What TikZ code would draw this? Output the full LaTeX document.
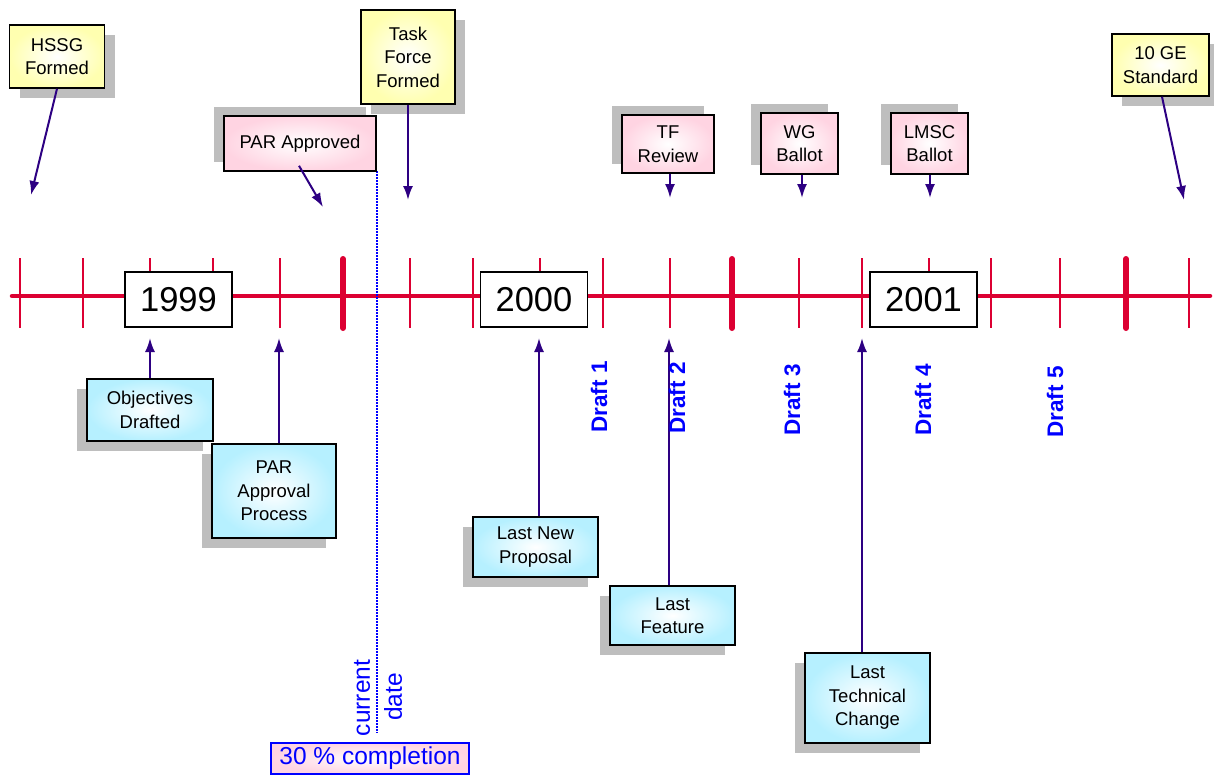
\documentclass[tikz,border=0pt]{standalone}
\usepackage{fontspec}
\setmainfont{Liberation Sans}
\usetikzlibrary{shadows,arrows.meta}
\definecolor{boxyellow}{RGB}{255,255,176}
\definecolor{boxpink}{RGB}{255,212,226}
\definecolor{boxcyan}{RGB}{182,240,255}
\definecolor{shadowgray}{RGB}{190,190,190}
\definecolor{tlred}{RGB}{220,0,50}
\definecolor{arrowc}{RGB}{45,0,130}
\definecolor{txtblue}{RGB}{0,0,255}
\begin{document}
\begin{tikzpicture}[x=1pt,y=-1pt,
  box/.style={draw=black, line width=1.5pt, inner sep=0pt, align=center,
    font=\fontsize{18.5}{23.5}\selectfont, shading=radial, inner color=white},
  ybox/.style={box, outer color=boxyellow,
    general shadow={fill=shadowgray, shadow xshift=10pt, shadow yshift=-10pt}},
  pbox/.style={box, outer color=boxpink,
    general shadow={fill=shadowgray, shadow xshift=-10pt, shadow yshift=9pt}},
  cbox/.style={box, outer color=boxcyan,
    general shadow={fill=shadowgray, shadow xshift=-10pt, shadow yshift=-10pt}},
  yearbox/.style={draw=black, fill=white, line width=1.5pt, inner sep=0pt,
    minimum width=107pt, minimum height=55pt, font=\fontsize{34.5}{38}\selectfont},
  arr/.style={draw=arrowc, line width=2pt, -{Latex[length=14pt,width=10pt]}},
  draftlbl/.style={rotate=90, text=txtblue, font=\bfseries\fontsize{22.5}{26}\selectfont},
  bluelbl/.style={rotate=90, text=txtblue, font=\fontsize{24.5}{28}\selectfont},
  thintick/.style={draw=tlred, line width=1.5pt},
  thicktick/.style={draw=tlred, line width=6pt, line cap=round}
]
\useasboundingbox (0,0) rectangle (1214,774);

% timeline
\foreach \x in {20,83,150,213,280,410,473,540,603,670,799,862,929,991,1060,1189}
  \draw[thintick] (\x,258) -- (\x,328);
\draw[draw=tlred, line width=4.5pt, line cap=round] (12,296) -- (1210,296);
\foreach \x in {343,732,1126}
  \draw[thicktick] (\x,259) -- (\x,328);

% year boxes
\node[yearbox] (y1999) at (178.5,299.5) {1999};
\node[yearbox] (y2000) at (534,299.5) {2000};
\node[yearbox] (y2001) at (923.5,299.5) {2001};

% current date line
\draw[txtblue, line width=1.5pt, dash pattern=on 1.5pt off 1.5pt] (377,171) -- (377,733);

% top boxes
\node[ybox, minimum width=95pt, minimum height=63pt] (hssg) at (57,56.5) {HSSG\\Formed};
\node[ybox, minimum width=94pt, minimum height=94pt] (tff) at (408,57) {Task\\Force\\Formed};
\node[pbox, minimum width=152pt, minimum height=55pt] (para) at (300,143.5) {PAR Approved};
\node[pbox, minimum width=92pt, minimum height=58pt] (tfr) at (668,144) {TF\\Review};
\node[pbox, minimum width=77pt, minimum height=61pt] (wgb) at (799.5,143.5) {WG\\Ballot};
\node[pbox, minimum width=77pt, minimum height=61pt] (lmsc) at (929.5,143.5) {LMSC\\Ballot};
\node[ybox, minimum width=97pt, minimum height=62pt] (ge) at (1160.5,65) {10 GE\\Standard};

% top arrow ends
\coordinate (e1) at (31,195);
\coordinate (e2) at (408,200);
\coordinate (e3) at (323,207);
\coordinate (e4) at (670,198);
\coordinate (e5) at (802,198);
\coordinate (e6) at (930,198);
\coordinate (e7) at (1184,200);
\draw[arr] (hssg.south) -- (e1);
\draw[arr] (tff.south) -- (e2);
\draw[arr] ([xshift=-1pt,yshift=6pt]para.south) -- (e3);
\draw[arr] (tfr.south -| e4) -- (e4);
\draw[arr] (wgb.south -| e5) -- (e5);
\draw[arr] (lmsc.south -| e6) -- (e6);
\draw[arr] ([xshift=1.5pt]ge.south) -- (e7);

% bottom boxes
\node[cbox, minimum width=126pt, minimum height=62pt] (obj) at (150,410) {Objectives\\Drafted};
\node[cbox, minimum width=124pt, minimum height=94pt] (pap) at (274,491) {PAR\\Approval\\Process};
\node[cbox, minimum width=125pt, minimum height=60pt] (lnp) at (535.5,547) {Last New\\Proposal};
\node[cbox, minimum width=125pt, minimum height=59pt] (lf) at (672.5,615.5) {Last\\Feature};
\node[cbox, minimum width=125pt, minimum height=90pt] (ltc) at (867.5,698) {Last\\Technical\\Change};

\coordinate (b1) at (150,338);
\coordinate (b2) at (279,338);
\coordinate (b3) at (539,338);
\coordinate (b4) at (669,338);
\coordinate (b5) at (862,338);
\draw[arr] (obj.north -| b1) -- (b1);
\draw[arr] (pap.north -| b2) -- (b2);
\draw[arr] (lnp.north -| b3) -- (b3);
\draw[arr] (lf.north -| b4) -- (b4);
\draw[arr] (ltc.north -| b5) -- (b5);

% drafts
\node[draftlbl] (d1) at (599,397) {Draft 1};
\node[draftlbl] (d2) at (677,398) {Draft 2};
\node[draftlbl] (d3) at (792,400) {Draft 3};
\node[draftlbl] (d4) at (923,400) {Draft 4};
\node[draftlbl] (d5) at (1055,402) {Draft 5};

% current date
\node[bluelbl] (cur) at (362,698) {current};
\node[bluelbl] (dat) at (393,697) {date};

% completion
\node[draw=txtblue, line width=1.5pt, inner sep=0pt, shading=radial, inner color=white,
  outer color=boxpink, minimum width=198pt, minimum height=31pt, text=txtblue,
  font=\fontsize{24.5}{28}\selectfont] (comp) at (370,758.5) {30 \% completion};
\end{tikzpicture}
\end{document}
